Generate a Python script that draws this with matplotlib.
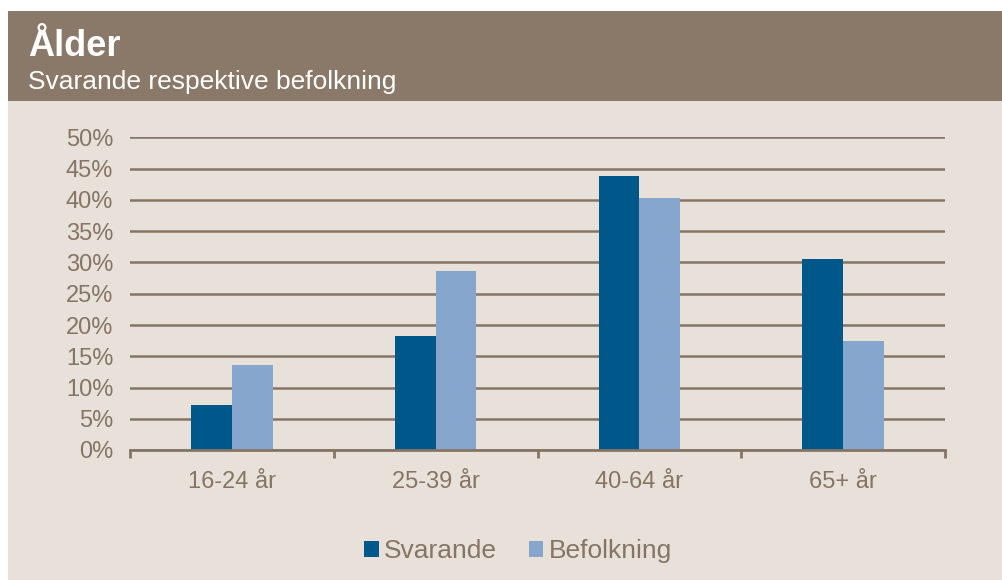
import numpy as np
import matplotlib.pyplot as plt
from matplotlib.patches import Rectangle
from matplotlib.ticker import PercentFormatter

categories = ['16-24 år', '25-39 år', '40-64 år', '65+ år']
svarande = [0.072, 0.182, 0.439, 0.306]
befolkning = [0.136, 0.286, 0.403, 0.174]
series_names = ['Svarande', 'Befolkning']

W, H = 1002, 580
bg = '#E8E1DA'
header = '#8A7968'
txt = '#857565'
c_svar = '#00578A'
c_bef = '#86A6CE'

plt.rcParams['font.family'] = ['Liberation Sans', 'DejaVu Sans']

fig = plt.figure(figsize=(W / 100, H / 100), dpi=100)
fig.patch.set_facecolor('white')

# background panels (figure pixel coords -> fraction)
fig.patches.append(Rectangle((8 / W, 0), 1 - 8 / W, 1 - 101 / H, transform=fig.transFigure,
                             facecolor=bg, edgecolor='none', zorder=-2))
fig.patches.append(Rectangle((8 / W, 1 - 101 / H), 1 - 8 / W, 90 / H, transform=fig.transFigure,
                             facecolor=header, edgecolor='none', zorder=-2))
fig.text(28 / W, 1 - 46 / H, 'Ålder', color='white', fontsize=26, fontweight='bold', va='center')
fig.text(28 / W, 1 - 82 / H, 'Svarande respektive befolkning', color='white', fontsize=19, va='center')

ax = fig.add_axes([130 / W, 1 - 450 / H, 815 / W, 312.5 / H])
ax.set_facecolor('none')

x = np.arange(len(categories))
bw = 0.2
ax.bar(x - bw / 2, svarande, bw, color=c_svar, label=series_names[0], zorder=3)
ax.bar(x + bw / 2, befolkning, bw, color=c_bef, label=series_names[1], zorder=3)

ax.set_xlim(-0.5, len(categories) - 0.5)
ax.set_ylim(0, 0.5)
ax.set_yticks(np.arange(0, 0.51, 0.05))
ax.yaxis.set_major_formatter(PercentFormatter(1.0, decimals=0))
ax.grid(axis='y', color=txt, linewidth=1.8, zorder=1)
ax.set_axisbelow(True)

for s in ['top', 'right', 'left']:
    ax.spines[s].set_visible(False)
ax.spines['bottom'].set_color(txt)
ax.spines['bottom'].set_linewidth(2)
ax.spines['bottom'].set_zorder(4)

ax.set_xticks(np.arange(-0.5, len(categories), 1.0))
ax.set_xticklabels([])
ax.set_xticks(x, minor=True)
ax.set_xticklabels(categories, minor=True)
ax.tick_params(axis='x', which='major', length=6, width=2, color=txt, direction='out')
ax.tick_params(axis='x', which='minor', length=0, pad=15, labelsize=17, labelcolor=txt)
ax.tick_params(axis='y', length=0, pad=12, labelsize=17, labelcolor=txt)

leg = fig.legend(loc='center', bbox_to_anchor=(518 / W, 1 - 551 / H), ncol=2, frameon=False,
                 fontsize=19, handlelength=0.55, handleheight=0.55, handletextpad=0.2,
                 columnspacing=1.2)
for t in leg.get_texts():
    t.set_color(txt)

fig.savefig('out.png', dpi=100)
